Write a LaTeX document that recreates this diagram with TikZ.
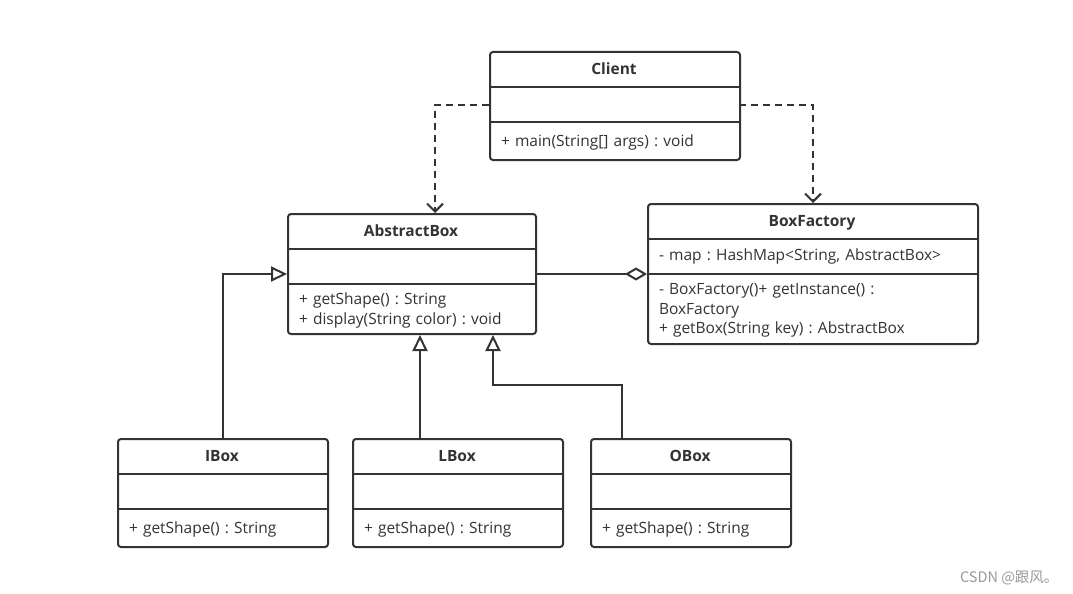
\documentclass[tikz,border=0pt]{standalone}
\usepackage{fontspec}
\setmainfont{Open Sans}
\newfontfamily\cjkfont{Noto Sans CJK SC}
\usepackage{tikz}
\usetikzlibrary{arrows.meta,positioning,calc}
\frenchspacing

\definecolor{umlline}{HTML}{333333}
\definecolor{marktext}{HTML}{9A9A9A}

\tikzset{
	classbox/.style={draw=umlline, line width=2pt, rounded corners=3pt, fill=white, inner sep=0pt},
	part/.style={inner xsep=12pt, inner ysep=0pt, outer sep=0pt, align=left, text=umlline},
	divider/.style={draw=umlline, line width=2pt},
	dep/.style={draw=umlline, line width=2pt, dash pattern=on 7pt off 5pt, -{Straight Barb[length=8pt, width=16pt]}},
	inherit/.style={draw=umlline, line width=2pt, -{Triangle[open, length=16pt, width=15pt, fill=white]}},
	agg/.style={draw=umlline, line width=2pt, -{Diamond[open, length=22pt, width=13pt, fill=white]}},
	watermark/.style={text=marktext, font=\cjkfont\fontsize{14.5}{16}\selectfont}
}

\newcommand{\umlclass}[7]{%
	\pgfmathsetmacro{\opsh}{#4-71}%
	\pgfmathsetmacro{\txtw}{#3-24}%
	\node[classbox, anchor=north west, minimum width=#3pt, minimum height=#4pt] (#1) at (#2) {};
	\node[part, anchor=north west, minimum width=#3pt, minimum height=36pt, text height=11pt, text depth=0pt, font=\bfseries\fontsize{15.5}{19.5}\selectfont] (#1-title) at (#1.north west) {#5};
	\node[part, anchor=north west, minimum height=35pt, text width=\txtw pt] (#1-attr) at (#1-title.south west) {#6};
	\node[part, anchor=north west, minimum height=\opsh pt, text width=\txtw pt] (#1-ops) at ([yshift=-2pt]#1-attr.south west) {#7};
	\draw[divider] (#1-title.south west) -- (#1-title.south east);
	\draw[divider] (#1-attr.south west) -- (#1-attr.south east);
}

\begin{document}
\begin{tikzpicture}[x=1pt, y=-1pt, font=\fontsize{15.5}{19.5}\selectfont]
	\fill[white] (0,0) rectangle (1073,594);
	\useasboundingbox (0,0) rectangle (1073,594);

	\umlclass{client}{489,51}{250}{108}{Client}{}{+ main(String[] args) : void}
	\umlclass{abox}{287,213}{248}{120}{AbstractBox}{}{+ getShape() : String\\+ display(String color) : void}
	\umlclass{factory}{647,203}{330}{140}{BoxFactory}{- map : HashMap<String, AbstractBox>}{- BoxFactory()+ getInstance() :\\BoxFactory\\+ getBox(String key) : AbstractBox}
	\umlclass{ibox}{117,438}{210}{108}{IBox}{}{+ getShape() : String}
	\umlclass{lbox}{352,438}{210}{108}{LBox}{}{+ getShape() : String}
	\umlclass{obox}{590,438}{200}{108}{OBox}{}{+ getShape() : String}

	\draw[dep] (client-attr.west) -| ([xshift=23pt]abox.north);
	\draw[dep] (client-attr.east) -| (factory.north);
	\draw[agg] (abox.east) -- (factory.west);
	\draw[inherit] (ibox.north) |- (abox.west);
	\draw[inherit] ([xshift=-38pt]lbox.north) -- ([xshift=-38pt]lbox.north |- abox.south);
	\draw[inherit] ([xshift=-69pt]obox.north) -- ++(0,-53) -| ([xshift=81pt]abox.south);

	\node[watermark, anchor=east] (mark) at (1062,578) {CSDN @跟风。};
\end{tikzpicture}
\end{document}
